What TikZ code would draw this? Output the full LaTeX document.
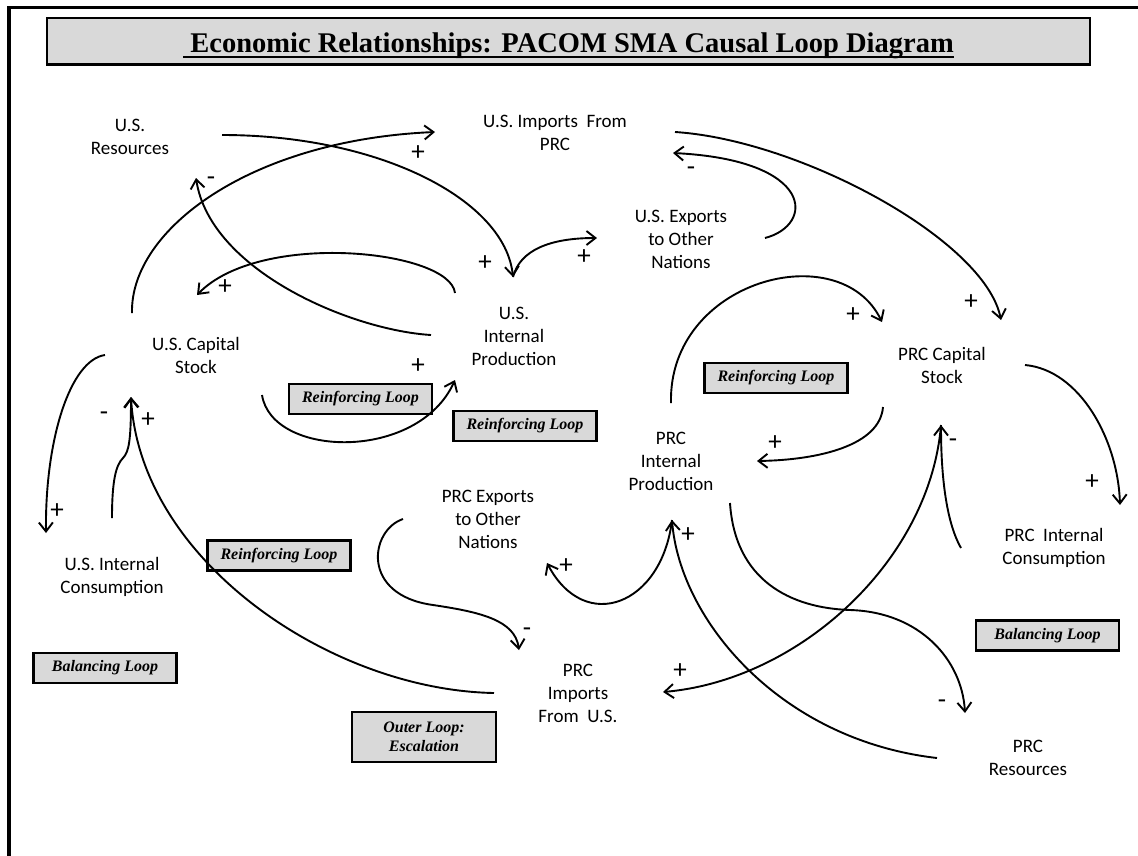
\documentclass[tikz,border=0pt]{standalone}
\usepackage{fontspec}
\setmainfont{Carlito}
\newfontfamily\serifface{Liberation Serif}
\usetikzlibrary{arrows.meta,calc}
\definecolor{boxgray}{HTML}{D9D9D9}

\tikzset{
  var/.style={align=center, font=\fontsize{19}{23}\selectfont, inner sep=0pt},
  loopbox/.style={draw, line width=2.4pt, fill=boxgray, minimum width=143pt,
    minimum height=30pt, align=center, inner sep=0pt,
    font=\serifface\bfseries\itshape\fontsize{16}{19}\selectfont},
  link/.style={line width=1.9pt,
    -{Straight Barb[length=9pt,width=14pt,line width=1.9pt]}},
  sign/.style={font=\fontsize{27}{27}\selectfont, inner sep=0pt},
}

\begin{document}
\begin{tikzpicture}[x=1pt,y=-1pt]
\useasboundingbox (0,0) rectangle (1138,855);

% outer frame
\draw[line width=3.2pt] (9,880) -- (9,7.7) -- (1160,7.7);

% banner with title
\node[draw, line width=2.4pt, fill=boxgray, minimum width=1043pt,
      minimum height=46.5pt, inner sep=0pt] (banner) at (568.5,41.25) {};
\node[font=\serifface\bfseries\fontsize{28.5}{30}\selectfont, inner sep=0pt,
      anchor=base] (title) at (568.5,52)
      {\ Economic Relationships: PACOM SMA Causal Loop Diagram};
\draw[line width=1.6pt] ([yshift=-5pt]title.base west) -- ([yshift=-5pt]title.base east);

% loop labels
\node[loopbox] (rl1) at (360.5,399) {Reinforcing Loop};
\node[loopbox] (rl2) at (525,426) {Reinforcing Loop};
\node[loopbox] (rl3) at (776,378) {Reinforcing Loop};
\node[loopbox] (rl4) at (279,555.5) {Reinforcing Loop};
\node[loopbox] (bl1) at (105,668) {Balancing Loop};
\node[loopbox] (bl2) at (1047.5,635.5) {Balancing Loop};
\node[loopbox, minimum width=144pt, minimum height=50pt] (outer) at (424,737)
      {Outer Loop:\\Escalation};

% variables
\node[var] (usres)   at (130,137)  {U.S.\\Resources};
\node[var] (usimp)   at (555,133)  {U.S. Imports\ \ From\\PRC};
\node[var] (usexp)   at (681,239)  {U.S. Exports\\to Other\\Nations};
\node[var] (usprod)  at (514,336)  {U.S.\\Internal\\Production};
\node[var] (uscap)   at (196,355)  {U.S. Capital\\Stock};
\node[var] (prccap)  at (942,365)  {PRC Capital\\Stock};
\node[var] (prcprod) at (671,461)  {PRC\\Internal\\Production};
\node[var] (prcexp)  at (488,519)  {PRC Exports\\to Other\\Nations};
\node[var] (uscons)  at (112,577)  {U.S. Internal\\Consumption};
\node[var] (prccons) at (1054,548) {PRC\ \ Internal\\Consumption};
\node[var] (prcimp)  at (578,693)  {PRC\\Imports\\From\ \ U.S.};
\node[var] (prcres)  at (1028,758) {PRC\\Resources};

% U.S. links
\draw[link] ($(usres)+(92,-2)$) .. controls (380,135) and (505,200) .. ($(usprod)+(-1,-59)$);
\draw[link] ($(usprod)+(-1,-59)$) .. controls (520,250) and (550,238) .. ($(usexp)+(-84,-1)$);
\draw[link] ($(uscap)+(-64,-42)$) .. controls (130,230) and (250,140) .. ($(usimp)+(-120,-1)$);
\draw[link] ($(usprod)+(-83,-1)$) .. controls (350,330) and (210,270) .. ($(usres)+(66,41)$);
\draw[link] ($(usprod)+(-59,-43)$) .. controls (450,250) and (260,230) .. ($(uscap)+(1,-60)$);
\draw[link] ($(uscap)+(66,40)$) .. controls (272,458) and (418,462) .. ($(usprod)+(-59,44)$);
\draw[link] ($(usimp)+(120,-1)$) .. controls (800,140) and (985,240) .. ($(prccap)+(59,-45)$);
\draw[link] ($(usexp)+(84,-1)$) .. controls (815,225) and (815,160) .. ($(usimp)+(118,20)$);
\draw[link] ($(uscap)+(-91,0)$) .. controls (70,360) and (45,440) .. ($(uscons)+(-66,-44)$);
\draw[link] ($(uscons)+(0,-59)$) .. controls (112,480) and (116,465) .. (123,458)
            .. controls (129,452) and (131,440) .. ($(uscap)+(-65,42)$);

% PRC links
\draw[link] ($(prcprod)+(0,-58)$) .. controls (668,280) and (840,235) .. ($(prccap)+(-60,-43)$);
\draw[link] ($(prccap)+(-59,42)$) .. controls (880,445) and (820,460) .. ($(prcprod)+(86,0)$);
\draw[link] ($(prccap)+(83,0)$) .. controls (1080,370) and (1118,440) .. ($(prccons)+(66,-43)$);
\draw[link] ($(prccons)+(-93,0)$) .. controls (945,520) and (941,470) .. ($(prccap)+(-1,60)$);
\draw[link] ($(prccap)+(-1,60)$) .. controls (930,560) and (800,680) .. ($(prcimp)+(85,-1)$);
\draw[link] ($(prcres)+(-91,0)$) .. controls (780,740) and (680,620) .. ($(prcprod)+(1,59)$);
\draw[link] ($(prcprod)+(1,59)$) .. controls (662,605) and (585,635) .. ($(prcexp)+(59,44)$);
\draw[link] ($(prcprod)+(59,42)$) .. controls (735,580) and (790,608) .. (850,610)
            .. controls (920,612) and (962,660) .. ($(prcres)+(-63,-45)$);
\draw[link] ($(prcexp)+(-85,0)$) .. controls (370,530) and (360,595) .. (433,605)
            .. controls (480,612) and (515,620) .. ($(prcimp)+(-59,-43)$);
\draw[link] ($(prcimp)+(-84,0)$) .. controls (330,690) and (140,560) .. ($(uscap)+(-65,42)$);

% polarity signs
\node[sign] (p1)  at (418,153)  {+};
\node[sign] (p2)  at (211,178)  {\vphantom{+}-};
\node[sign] (p3)  at (485,263)  {+};
\node[sign] (p4)  at (584,257)  {+};
\node[sign] (p5)  at (225,287)  {+};
\node[sign] (p6)  at (418,366)  {+};
\node[sign] (p7)  at (691,168)  {\vphantom{+}-};
\node[sign] (p8)  at (971,302)  {+};
\node[sign] (p9)  at (853,315)  {+};
\node[sign] (p10) at (775,443)  {+};
\node[sign] (p11) at (953,440)  {\vphantom{+}-};
\node[sign] (p12) at (1092,482) {+};
\node[sign] (p13) at (942,701)  {\vphantom{+}-};
\node[sign] (p14) at (688,535)  {+};
\node[sign] (p15) at (566,566)  {+};
\node[sign] (p16) at (527,629)  {\vphantom{+}-};
\node[sign] (p17) at (680,671)  {+};
\node[sign] (p18) at (104,413)  {\vphantom{+}-};
\node[sign] (p19) at (148,420)  {+};
\node[sign] (p20) at (57,511)   {+};
\end{tikzpicture}
\end{document}
